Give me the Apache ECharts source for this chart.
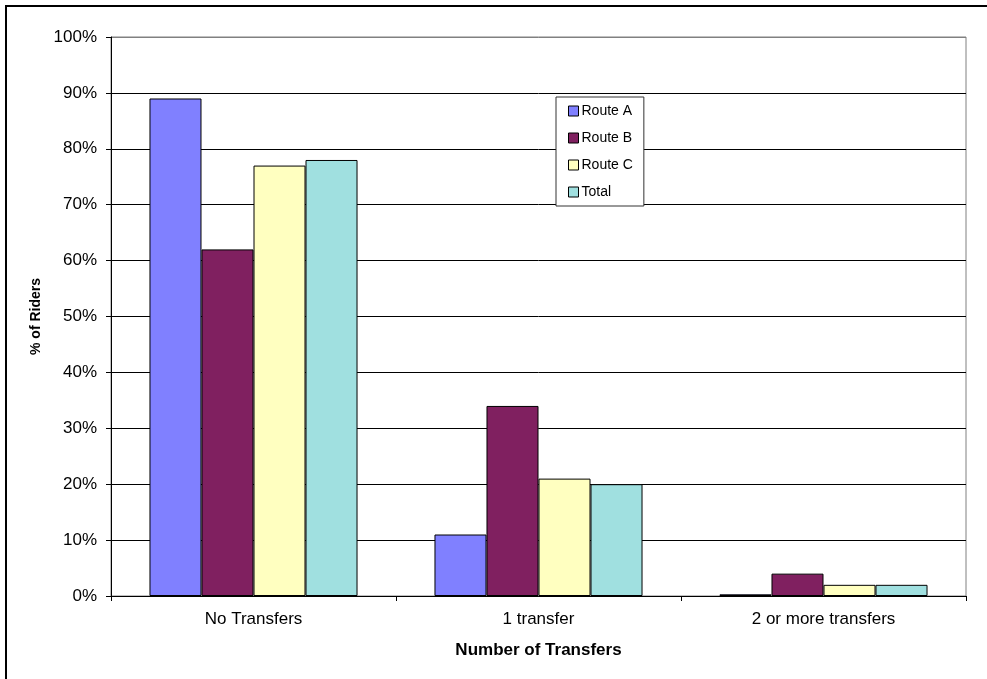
<!DOCTYPE html>
<html>
<head>
<meta charset="utf-8">
<style>
  html, body { margin: 0; padding: 0; background: #fff; }
  #chart { width: 987px; height: 679px; }
</style>
<script src="https://cdn.jsdelivr.net/npm/echarts@6/dist/echarts.min.js"></script>
</head>
<body>
<div id="chart"></div>
<script>
// Share of riders by number of transfers, per route
const categories = ['No Transfers', '1 transfer', '2 or more transfers'];
const routeA = [89, 11, 0.3];
const routeB = [62, 34, 4];
const routeC = [77, 21, 2];
const total = [78, 20, 2];
const seriesNames = ['Route A', 'Route B', 'Route C', 'Total'];
const yTicks = [0, 10, 20, 30, 40, 50, 60, 70, 80, 90, 100];

const colors = ['#8080FF', '#802060', '#FFFFC0', '#A0E0E0'];
const font = '"Liberation Sans", Arial, sans-serif';

const chart = echarts.init(document.getElementById('chart'), null, { renderer: 'canvas' });

const makeSeries = (name, data, color) => ({
  name: name,
  type: 'bar',
  data: data,
  barGap: '0%',
  barCategoryGap: '27%',
  itemStyle: { color: color, borderColor: '#000', borderWidth: 1 },
  emphasis: { disabled: true }
});

chart.setOption({
  animation: false,
  backgroundColor: '#fff',
  graphic: [{
    type: 'rect',
    shape: { x: 6, y: 6, width: 1000, height: 700 },
    style: { fill: 'none', stroke: '#000', lineWidth: 2 },
    z: 100
  }],
  grid: {
    left: 111, top: 37, right: 21, bottom: 83,
    show: true, borderColor: '#808080', borderWidth: 1
  },
  legend: {
    orient: 'vertical',
    left: 556, top: 97,
    data: seriesNames,
    icon: 'rect',
    itemWidth: 10, itemHeight: 10, itemGap: 11,
    padding: [6, 11, 6, 12],
    backgroundColor: '#fff',
    borderColor: '#333', borderWidth: 1,
    textStyle: { fontFamily: font, fontSize: 14, color: '#000', lineHeight: 16, padding: [0, 0, 0, -2] },
    itemStyle: { borderColor: '#000', borderWidth: 1 }
  },
  xAxis: {
    type: 'category',
    data: categories,
    name: 'Number of Transfers',
    nameLocation: 'middle',
    nameGap: 46,
    nameMoveOverlap: false,
    nameTextStyle: { fontFamily: font, fontSize: 17, fontWeight: 'bold', color: '#000' },
    axisLine: { lineStyle: { color: '#000', width: 1 } },
    axisTick: { show: true, length: 5, inside: false, lineStyle: { color: '#000' } },
    axisLabel: { fontFamily: font, fontSize: 17, color: '#000', margin: 15 }
  },
  yAxis: {
    type: 'value',
    min: 0, max: 100, interval: 10,
    name: '% of Riders',
    nameLocation: 'middle',
    nameRotate: 90,
    nameGap: 68,
    nameMoveOverlap: false,
    nameTextStyle: { fontFamily: font, fontSize: 14, fontWeight: 'bold', color: '#000' },
    axisLine: { show: true, lineStyle: { color: '#000', width: 1 } },
    axisTick: { show: true, length: 5, lineStyle: { color: '#000' } },
    axisLabel: {
      fontFamily: font, fontSize: 17, color: '#000', margin: 14,
      formatter: v => (yTicks.includes(v) ? v + '%' : '')
    },
    splitLine: {
      show: true,
      lineStyle: { color: ['#000','#000','#000','#000','#000','#000','#000','#000','#000','#000','#808080'], width: 1 }
    }
  },
  series: [
    makeSeries(seriesNames[0], routeA, colors[0]),
    makeSeries(seriesNames[1], routeB, colors[1]),
    makeSeries(seriesNames[2], routeC, colors[2]),
    makeSeries(seriesNames[3], total, colors[3])
  ]
});
</script>
</body>
</html>
